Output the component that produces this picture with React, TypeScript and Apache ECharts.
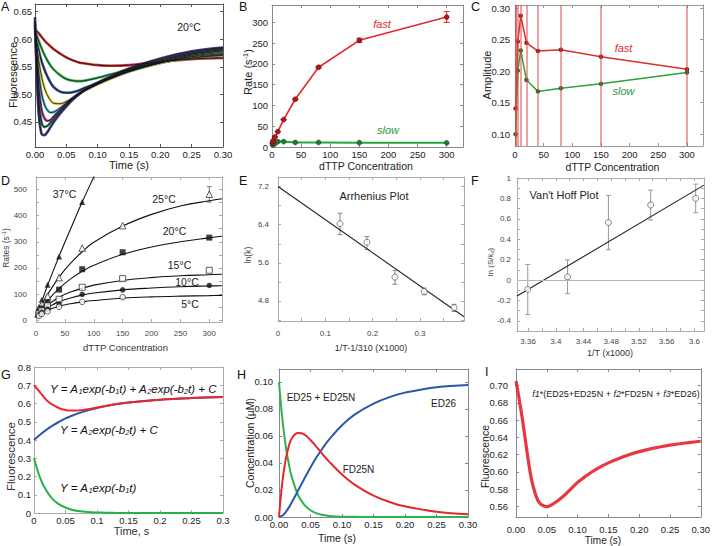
import React, { useEffect, useRef } from "react";
import * as echarts from "echarts";

const FONT = '"Liberation Sans", Arial, Helvetica, sans-serif';

// ---------- Panel A: stopped-flow traces at 20°C ----------
const aTime = [0, 0.005, 0.01, 0.015, 0.02, 0.025, 0.03, 0.04, 0.05, 0.06, 0.07, 0.08, 0.1, 0.12, 0.15, 0.2, 0.25, 0.3];
const aRed = [0.618, 0.612, 0.605, 0.598, 0.592, 0.587, 0.582, 0.574, 0.567, 0.562, 0.558, 0.556, 0.553, 0.552, 0.553, 0.559, 0.564, 0.566];
const aGreen = [0.615, 0.6, 0.585, 0.572, 0.561, 0.552, 0.545, 0.535, 0.528, 0.525, 0.524, 0.525, 0.53, 0.536, 0.545, 0.558, 0.566, 0.571];
const aBlue = [0.612, 0.585, 0.562, 0.545, 0.532, 0.521, 0.513, 0.505, 0.503, 0.504, 0.507, 0.512, 0.521, 0.53, 0.542, 0.557, 0.568, 0.574];
const aYellow = [0.615, 0.57, 0.535, 0.512, 0.498, 0.489, 0.484, 0.483, 0.487, 0.493, 0.5, 0.507, 0.518, 0.528, 0.541, 0.557, 0.569, 0.577];
const aCyan = [0.62, 0.55, 0.505, 0.482, 0.471, 0.467, 0.468, 0.475, 0.484, 0.493, 0.501, 0.508, 0.519, 0.529, 0.542, 0.558, 0.571, 0.579];
const aMagenta = [0.626, 0.53, 0.475, 0.457, 0.452, 0.454, 0.46, 0.472, 0.483, 0.493, 0.501, 0.509, 0.52, 0.53, 0.543, 0.56, 0.573, 0.581];
const aDkGreen = [0.632, 0.505, 0.452, 0.441, 0.443, 0.449, 0.456, 0.469, 0.481, 0.492, 0.501, 0.509, 0.521, 0.531, 0.545, 0.562, 0.575, 0.583];
const aPurple = [0.64, 0.48, 0.43, 0.426, 0.432, 0.441, 0.45, 0.465, 0.478, 0.49, 0.5, 0.508, 0.521, 0.532, 0.547, 0.565, 0.578, 0.585];
const aTraces = [aRed, aGreen, aBlue, aYellow, aCyan, aMagenta, aDkGreen, aPurple];
const aColors = ["#c81a1e", "#22a63e", "#1f3c8e", "#e2c21e", "#35a9bd", "#b0278a", "#127a3a", "#3b2c7e"];

// ---------- Panel B: rates ----------
const bConc = [1, 2, 5, 10, 20, 40, 80, 150, 300];
const bFast = [10, 15, 24, 37, 66, 115, 192, 257, 313];
const bSlow = [5, 6, 8, 13, 13, 11, 11, 10.5, 10];
const bFastLo = [10, 15, 24, 37, 66, 115, 190, 252, 300];
const bFastHi = [10, 15, 24, 37, 66, 115, 194, 262, 326];

// ---------- Panel C: amplitudes ----------
const cConc = [1, 5, 10, 20, 40, 80, 150, 300];
const cFast = [0.141, 0.247, 0.288, 0.245, 0.232, 0.234, 0.223, 0.203];
const cSlow = [0.1, 0.201, 0.233, 0.186, 0.168, 0.173, 0.18, 0.198];
const cErrLines = [1, 2, 5, 10, 20, 40, 80, 150, 300];

// ---------- Panel D: rates vs temperature ----------
const dConc = [5, 10, 20, 40, 80, 150, 300];
const d37Conc = [2, 5, 10, 20, 40, 80];
const d37 = [22, 50, 78, 136, 244, 452];
const d25 = [40, 62, 92, 163, 276, 362, 482];
const d20 = [30, 45, 68, 117, 195, 260, 316];
const d15 = [25, 36, 55, 80, 126, 159, 191];
const d10 = [20, 30, 42, 62, 99, 116, 133];
const d5Conc = [5, 10, 20, 40, 80, 150];
const d5 = [16, 24, 34, 51, 70, 88];
const d25ErrX = [300];
const d25ErrLo = [452];
const d25ErrHi = [511];
const dFitConc = [0, 5, 10, 20, 40, 60, 80, 100, 150, 200, 250, 300, 322];
const dFit25 = [12, 38, 60, 98, 165, 218, 262, 298, 360, 405, 437, 457, 465];
const dFit20 = [12, 30, 46, 75, 122, 158, 187, 210, 252, 280, 300, 315, 321];
const dFit15 = [12, 26, 38, 58, 88, 108, 122, 134, 152, 163, 170, 174, 176];
const dFit10 = [12, 23, 32, 48, 71, 85, 96, 104, 116, 123, 128, 131, 132];
const dFit5 = [10, 19, 27, 38, 53, 63, 70, 75, 84, 89, 92, 94, 95];
const dFit37Conc = [0, 10, 20, 40, 60, 80, 100, 110];
const dFit37 = [12, 72, 133, 245, 350, 452, 548, 595];

// ---------- Panel E: Arrhenius ----------
const eX = [0.131, 0.188, 0.247, 0.309, 0.372];
const eY = [6.42, 6.03, 5.3, 5.0, 4.66];
const eLo = [6.19, 5.88, 5.15, 4.93, 4.58];
const eHi = [6.64, 6.15, 5.44, 5.07, 4.73];
const eFitX = [0, 0.393];
const eFitY = [7.2, 4.47];

// ---------- Panel F: Van't Hoff ----------
const fX = [3.3595, 3.417, 3.476, 3.537, 3.602];
const fY = [-0.092, 0.031, 0.563, 0.735, 0.8];
const fLo = [-0.339, -0.134, 0.297, 0.589, 0.66];
const fHi = [0.153, 0.197, 0.829, 0.881, 0.94];
const fFitX = [3.344, 3.614];
const fFitY = [-0.157, 0.93];

// ---------- Panel G: model components ----------
const gTime = [0, 0.01, 0.02, 0.03, 0.04, 0.05, 0.06, 0.07, 0.08, 0.09, 0.1, 0.12, 0.15, 0.2, 0.25, 0.3];
const gSum = [0.7, 0.66, 0.618, 0.592, 0.574, 0.564, 0.561, 0.562, 0.566, 0.571, 0.578, 0.591, 0.605, 0.621, 0.63, 0.635];
const gSlow = [0.4, 0.43, 0.457, 0.48, 0.5, 0.518, 0.533, 0.546, 0.557, 0.567, 0.575, 0.59, 0.605, 0.621, 0.63, 0.635];
const gFast = [0.3, 0.19, 0.12, 0.075, 0.047, 0.03, 0.018, 0.011, 0.007, 0.004, 0.003, 0.001, 0, 0, 0, 0];

// ---------- Panel H: species concentrations ----------
const hTime = [0, 0.005, 0.01, 0.015, 0.02, 0.03, 0.04, 0.05, 0.06, 0.07, 0.08, 0.1, 0.12, 0.15, 0.18, 0.2, 0.25, 0.3];
const hED25 = [0.1, 0.0741, 0.0549, 0.0407, 0.0301, 0.0165, 0.0091, 0.005, 0.0027, 0.0015, 0.0008, 0.0002, 0.0001, 0, 0, 0, 0, 0];
const hFD25N = [0, 0.0245, 0.041, 0.0515, 0.058, 0.0622, 0.0612, 0.057, 0.0517, 0.046, 0.0408, 0.0315, 0.024, 0.0158, 0.0104, 0.0079, 0.0039, 0.002];
const hED26 = [0, 0.0009, 0.0033, 0.0066, 0.0106, 0.0194, 0.0282, 0.0367, 0.0446, 0.0515, 0.0577, 0.068, 0.0758, 0.084, 0.0895, 0.0921, 0.0961, 0.0978];

// ---------- Panel I: fitted trace ----------
const iTime = [0, 0.005, 0.01, 0.015, 0.02, 0.025, 0.03, 0.035, 0.04, 0.045, 0.05, 0.055, 0.06, 0.07, 0.08, 0.09, 0.1, 0.11, 0.12, 0.13, 0.14, 0.15, 0.16, 0.18, 0.2, 0.22, 0.25, 0.28, 0.3];
const iFluor = [0.705, 0.685, 0.663, 0.638, 0.613, 0.592, 0.578, 0.568, 0.563, 0.561, 0.56, 0.561, 0.563, 0.568, 0.574, 0.581, 0.588, 0.5935, 0.5985, 0.603, 0.607, 0.6105, 0.6135, 0.619, 0.6235, 0.627, 0.631, 0.634, 0.6355];

// ---------- helpers ----------
const fixed = (d: number) => (v: number) => v.toFixed(d);
const trim = (d: number) => (v: number) => String(parseFloat(v.toFixed(d)));
const filt = (every: number, anchor: number, f: (v: number) => string) => (v: number) => {
  const k = (v - anchor) / every;
  return Math.abs(k - Math.round(k)) < 1e-6 ? f(v) : "";
};

function axis(gi: number, s: any, pos: string, showLabel: boolean) {
  return {
    type: "value",
    gridIndex: gi,
    position: pos,
    min: s.min,
    max: s.max,
    minInterval: s.step,
    maxInterval: s.step,
    axisLine: { show: true, onZero: false, lineStyle: { color: s.line, width: 1 } },
    axisTick: { show: true, inside: true, length: s.tick ?? 3, lineStyle: { color: s.line, width: 1 } },
    axisLabel: {
      show: showLabel,
      margin: s.margin,
      fontSize: s.fs,
      color: s.color,
      fontFamily: FONT,
      formatter: filt(s.every ?? s.step, s.anchor ?? 0, s.fmt),
      showMinLabel: true,
      showMaxLabel: true,
    },
    splitLine: { show: false },
  };
}

const pairs = (xs: number[], ys: number[]) => xs.map((x, i) => [x, ys[i]]);

function lineS(gi: number, xs: number[], ys: number[], color: string, width: number, extra: any = {}) {
  return {
    type: "line",
    xAxisIndex: 2 * gi,
    yAxisIndex: 2 * gi,
    data: pairs(xs, ys),
    symbol: "none",
    smooth: 0.4,
    lineStyle: { color, width },
    silent: true,
    ...extra,
  };
}

function scatterS(gi: number, xs: number[], ys: number[], symbol: string, size: number, itemStyle: any) {
  return {
    type: "scatter",
    xAxisIndex: 2 * gi,
    yAxisIndex: 2 * gi,
    data: pairs(xs, ys),
    symbol,
    symbolSize: size,
    itemStyle,
    silent: true,
    z: 4,
  };
}

function errS(gi: number, xs: number[], lo: number[], hi: number[], color: string, cap: number) {
  return {
    type: "custom",
    xAxisIndex: 2 * gi,
    yAxisIndex: 2 * gi,
    data: xs.map((x, i) => [x, lo[i], hi[i]]),
    encode: { x: 0, y: [1, 2] },
    silent: true,
    z: 3,
    renderItem: (_p: any, api: any) => {
      const a = api.coord([api.value(0), api.value(1)]);
      const b = api.coord([api.value(0), api.value(2)]);
      const st = { stroke: color, lineWidth: 1 };
      return {
        type: "group",
        children: [
          { type: "line", shape: { x1: a[0], y1: a[1], x2: b[0], y2: b[1] }, style: st },
          { type: "line", shape: { x1: a[0] - cap, y1: a[1], x2: a[0] + cap, y2: a[1] }, style: st },
          { type: "line", shape: { x1: b[0] - cap, y1: b[1], x2: b[0] + cap, y2: b[1] }, style: st },
        ],
      };
    },
  };
}

function txt(x: number, y: number, text: string, o: any = {}) {
  const align = o.align || "center";
  return {
    type: "text",
    x,
    y,
    rotation: o.rot || 0,
    silent: true,
    z: 100,
    style: {
      text,
      fill: o.color || "#222",
      fontSize: o.size || 11,
      fontFamily: FONT,
      fontStyle: o.italic ? "italic" : "normal",
      align,
      verticalAlign: "middle",
      textAlign: align,
      textVerticalAlign: "middle",
      rich: o.rich,
    },
  };
}

function buildOption() {
  const gridPx = [
    [35, 4, 188, 143],
    [272, 5, 191, 142],
    [515, 5, 188, 141],
    [36, 177, 186, 145],
    [278, 177, 186, 144],
    [517, 178, 187, 153],
    [34, 367, 189, 146],
    [279, 369, 189, 148],
    [516, 369, 190, 148],
  ];
  const dark = "#222";
  const mid = "#444";
  const panels = [
    {
      x: { min: 0, max: 0.3, step: 0.05, fmt: fixed(2), margin: 2, fs: 9.5, color: dark, line: "#555" },
      y: { min: 0.4045, max: 0.664, step: 0.05, fmt: fixed(2), margin: 3, fs: 9.5, color: dark, line: "#555" },
    },
    {
      x: { min: 0, max: 328, step: 50, fmt: fixed(0), margin: 2, fs: 9.5, color: dark, line: "#888" },
      y: { min: 0, max: 342, step: 50, fmt: fixed(0), margin: 4, fs: 9.5, color: dark, line: "#888" },
    },
    {
      x: { min: 0, max: 328, step: 50, fmt: fixed(0), margin: 3, fs: 9.5, color: dark, line: "#999" },
      y: { min: 0.0814, max: 0.305, step: 0.05, fmt: fixed(2), margin: 5, fs: 9.5, color: dark, line: "#999" },
    },
    {
      x: { min: 0, max: 322, step: 50, fmt: fixed(0), margin: 7, fs: 8, color: mid, line: "#aaa" },
      y: { min: -7, max: 548, step: 50, every: 100, fmt: fixed(0), margin: 9, fs: 8, color: mid, line: "#aaa" },
    },
    {
      x: { min: 0, max: 0.393, step: 0.05, every: 0.1, fmt: trim(1), margin: 8, fs: 8, color: mid, line: "#aaa" },
      y: { min: 4.38, max: 7.4, step: 0.4, every: 0.8, anchor: 4.8, fmt: trim(1), margin: 9, fs: 8, color: mid, line: "#aaa" },
    },
    {
      x: { min: 3.344, max: 3.614, step: 0.02, every: 0.04, fmt: trim(2), margin: 6, fs: 8, color: mid, line: "#aaa" },
      y: { min: -0.5, max: 1.0, step: 0.1, every: 0.2, fmt: trim(1), margin: 6, fs: 8, color: mid, line: "#aaa" },
    },
    {
      x: { min: 0, max: 0.3, step: 0.05, fmt: trim(2), margin: 2, fs: 9.5, color: dark, line: "#aaa" },
      y: { min: 0, max: 0.8, step: 0.1, fmt: trim(1), margin: 3, fs: 9.5, color: dark, line: "#aaa" },
    },
    {
      x: { min: 0, max: 0.3, step: 0.05, fmt: fixed(2), margin: 2, fs: 9.5, color: dark, line: "#888" },
      y: { min: 0, max: 0.1096, step: 0.02, fmt: fixed(2), margin: 6, fs: 9.5, color: dark, line: "#888" },
    },
    {
      x: { min: 0, max: 0.3, step: 0.05, fmt: fixed(2), margin: 7, fs: 9.5, color: dark, line: "#888" },
      y: { min: 0.548, max: 0.719, step: 0.02, fmt: fixed(2), margin: 8, fs: 9.5, color: dark, line: "#888" },
    },
  ];

  const grid = gridPx.map(([l, t, w, h]) => ({ left: l, top: t, width: w, height: h, containLabel: false, show: false }));
  const xAxis: any[] = [];
  const yAxis: any[] = [];
  panels.forEach((p, gi) => {
    xAxis.push(axis(gi, p.x, "bottom", true), axis(gi, p.x, "top", false));
    yAxis.push(axis(gi, p.y, "left", true), axis(gi, p.y, "right", false));
  });

  const series: any[] = [];
  // A
  aTraces.forEach((tr, i) => series.push(lineS(0, aTime, tr, aColors[i], 2.6, { lineStyle: { color: aColors[i], width: 2.6, opacity: 0.9 } })));
  aTraces.forEach((tr) => series.push(lineS(0, aTime, tr, "#111", 0.8)));

  // B
  series.push(
    lineS(1, bConc, bSlow, "#25a540", 2, { smooth: false, symbol: "circle", symbolSize: 5, itemStyle: { color: "#1b7a33", borderColor: "#0e4d1f", borderWidth: 0.5 } })
  );
  series.push(
    lineS(1, bConc, bFast, "#e2282d", 1.6, { smooth: false, symbol: "circle", symbolSize: 5, itemStyle: { color: "#a8181c", borderColor: "#6a0d10", borderWidth: 0.5 } })
  );
  series.push(errS(1, bConc, bFastLo, bFastHi, "#d42a2a", 3));

  // C
  series.push(
    lineS(2, cConc, cFast, "#d8302f", 1.5, {
      smooth: false,
      symbol: "circle",
      symbolSize: 4.5,
      itemStyle: { color: "#9c1a1a" },
      markLine: {
        silent: true,
        symbol: ["none", "none"],
        label: { show: false },
        lineStyle: { color: "rgba(226,70,70,0.5)", width: 2, type: "solid" },
        data: cErrLines.map((x) => ({ xAxis: x })),
      },
    })
  );
  series.push(lineS(2, cConc, cSlow, "#2ea33a", 1.5, { smooth: false, symbol: "circle", symbolSize: 4.5, itemStyle: { color: "#1a6f2a" } }));

  // D
  [dFit25, dFit20, dFit15, dFit10, dFit5].forEach((f) => series.push(lineS(3, dFitConc, f, "#111", 1.1)));
  series.push(lineS(3, dFit37Conc, dFit37, "#111", 1.1));
  series.push(errS(3, d25ErrX, d25ErrLo, d25ErrHi, "#777", 2.5));
  const open = { color: "#fff", borderColor: "#222", borderWidth: 0.9 };
  const solid = { color: "#111" };
  series.push(scatterS(3, d37Conc, d37, "triangle", 6, solid));
  series.push(scatterS(3, dConc, d25, "triangle", 6.5, open));
  series.push(scatterS(3, dConc, d20, "rect", 6, solid));
  series.push(scatterS(3, dConc, d15, "rect", 6, open));
  series.push(scatterS(3, dConc, d10, "circle", 5.5, solid));
  series.push(scatterS(3, d5Conc, d5, "circle", 5.5, open));

  // E
  series.push(lineS(4, eFitX, eFitY, "#222", 1.1, { smooth: false }));
  series.push(errS(4, eX, eLo, eHi, "#888", 2.5));
  series.push(scatterS(4, eX, eY, "circle", 6, { color: "#fff", borderColor: "#555", borderWidth: 0.9 }));

  // F
  series.push(
    lineS(5, fFitX, fFitY, "#222", 1.1, {
      smooth: false,
      markLine: {
        silent: true,
        symbol: ["none", "none"],
        label: { show: false },
        lineStyle: { color: "#b5b5b5", width: 1, type: "solid" },
        data: [{ yAxis: 0 }],
      },
    })
  );
  series.push(errS(5, fX, fLo, fHi, "#999", 2.5));
  series.push(scatterS(5, fX, fY, "circle", 6, { color: "#fff", borderColor: "#555", borderWidth: 0.9 }));

  // G
  series.push(lineS(6, gTime, gSlow, "#2f56a3", 2));
  series.push(lineS(6, gTime, gSum, "#e8292f", 2));
  series.push(lineS(6, gTime, gFast, "#25b24a", 2));

  // H
  series.push(lineS(7, hTime, hED25, "#2db34e", 2));
  series.push(lineS(7, hTime, hED26, "#2c58a8", 2));
  series.push(lineS(7, hTime, hFD25N, "#e3282d", 2));

  // I
  series.push(lineS(8, iTime, iFluor, "#e4222a", 3.2, { lineStyle: { color: "#e4222a", width: 3.2, opacity: 0.9 } }));

  const L = { size: 12.5, color: "#111", align: "left" };
  const it = (c: string) => ({ italic: true, color: c, size: 11 });
  const subRich = (size: number, color: string) => ({
    i: { fontSize: size, fontStyle: "italic", fontFamily: FONT, fill: color },
    s: { fontSize: size * 0.65, fontStyle: "italic", fontFamily: FONT, fill: color, padding: [5, 0, 0, 0] },
  });
  const supRich = (size: number, color: string) => ({
    n: { fontSize: size, fontFamily: FONT, fill: color },
    p: { fontSize: size * 0.68, fontFamily: FONT, fill: color, padding: [0, 0, 5, 0] },
    s: { fontSize: size * 0.7, fontStyle: "italic", fontFamily: FONT, fill: color, padding: [4, 0, 0, 0] },
    k: { fontSize: size, fontStyle: "italic", fontFamily: FONT, fill: color },
  });
  const R = Math.PI / 2;

  const graphic = [
    // panel letters
    txt(1, 7, "A", L),
    txt(239, 7, "B", L),
    txt(471, 7, "C", L),
    txt(1, 181, "D", L),
    txt(239, 181, "E", L),
    txt(471, 181, "F", L),
    txt(1, 375, "G", L),
    txt(237, 375, "H", L),
    txt(485, 372, "I", L),
    // A
    txt(189, 27, "20°C", { size: 10.5 }),
    txt(12.5, 75, "Fluorescence", { rot: R, size: 11 }),
    txt(129, 165, "Time (s)", { size: 11 }),
    // B
    txt(382, 24, "fast", it("#e0282c")),
    txt(388, 130, "slow", it("#1f9a3a")),
    txt(248, 72, "{n|Rate (s}{p|-1}{n|)}", { rot: R, rich: supRich(11, "#222") }),
    txt(366, 166, "dTTP Concentration", { size: 10.5 }),
    // C
    txt(623.5, 47.5, "fast", it("#e0282c")),
    txt(623.5, 90.5, "slow", it("#1f9a3a")),
    txt(487, 75, "Amplitude", { rot: R, size: 11 }),
    txt(612.5, 167, "dTTP Concentration", { size: 10.5 }),
    // D
    txt(64.5, 194, "37°C", { size: 10.5 }),
    txt(164, 199, "25°C", { size: 10.5 }),
    txt(174.5, 230.5, "20°C", { size: 10.5 }),
    txt(179.5, 264.5, "15°C", { size: 10.5 }),
    txt(187, 282, "10°C", { size: 10.5 }),
    txt(190, 303.5, "5°C", { size: 10.5 }),
    txt(6, 248, "{n|Rates (s}{p|-1}{n|)}", { rot: R, rich: supRich(8.5, "#444") }),
    txt(125.5, 347, "dTTP Concentration", { size: 9.5, color: "#333" }),
    // E
    txt(374, 196, "Arrhenius Plot", { size: 11 }),
    txt(247.5, 255, "ln(k)", { rot: R, size: 8.5, color: "#444" }),
    txt(371, 347.5, "1/T-1/310 (X1000)", { size: 9, color: "#333" }),
    // F
    txt(529.5, 195, "Van't Hoff Plot", { size: 11, align: "left" }),
    txt(490, 262, "{n|ln (S/}{k|k}{s|d}{n|)}", { rot: R, rich: supRich(8, "#444") }),
    txt(610, 352.5, "1/T (x1000)", { size: 9, color: "#333" }),
    // G
    txt(50, 389, "{i|Y = A}{s|1}{i|exp(-b}{s|1}{i|t) + A}{s|2}{i|exp(-b}{s|2}{i|t) + C}", { align: "left", rich: subRich(11.5, "#111") }),
    txt(60, 430, "{i|Y = A}{s|2}{i|exp(-b}{s|2}{i|t) + C}", { align: "left", rich: subRich(11.5, "#111") }),
    txt(60, 487.5, "{i|Y = A}{s|1}{i|exp(-b}{s|1}{i|t)}", { align: "left", rich: subRich(11.5, "#111") }),
    txt(11, 456.5, "Fluorescence", { rot: R, size: 11.5, color: "#333" }),
    txt(131.5, 531, "Time, s", { size: 11, color: "#333" }),
    // H
    txt(321, 397, "ED25 + ED25N", { size: 10 }),
    txt(443.5, 403, "ED26", { size: 10 }),
    txt(358.5, 469, "FD25N", { size: 10 }),
    txt(249.5, 443, "Concentration (µM)", { rot: R, size: 10.5 }),
    txt(337, 538, "Time (s)", { size: 10.5 }),
    // I
    txt(
      616,
      393.5,
      "{k|f1}{n|*(ED25+ED25N + }{k|f2}{n|*FD25N + }{k|f3}{n|*ED26)}",
      { rich: supRich(9, "#222") }
    ),
    txt(485, 456.5, "Fluorescence", { rot: R, size: 10.5 }),
    txt(603, 540.5, "Time (s)", { size: 10 }),
  ];

  return {
    animation: false,
    backgroundColor: "#ffffff",
    textStyle: { fontFamily: FONT },
    grid,
    xAxis,
    yAxis,
    series,
    graphic,
  };
}

export default function App() {
  const ref = useRef<HTMLDivElement>(null);
  useEffect(() => {
    const chart = echarts.init(ref.current as HTMLDivElement, null, { renderer: "svg" });
    chart.setOption(buildOption() as any);
    return () => chart.dispose();
  }, []);
  return (
    <div
      ref={ref}
      style={{ position: "absolute", left: 0, top: 0, width: 713, height: 546, background: "#fff" }}
    />
  );
}
